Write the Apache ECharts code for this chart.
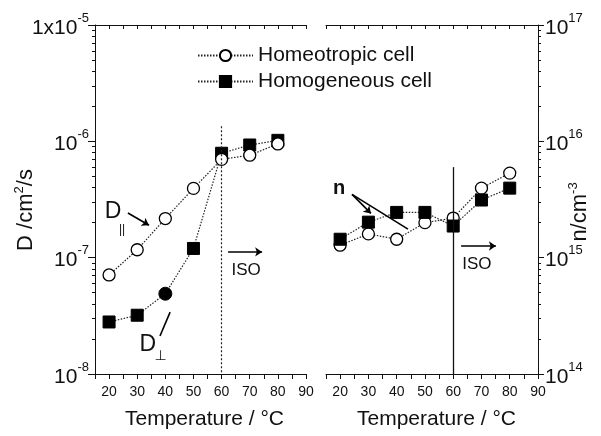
<!DOCTYPE html>
<html>
<head>
<meta charset="utf-8">
<script src="https://cdn.jsdelivr.net/npm/echarts@6/dist/echarts.min.js"></script>
<style>html,body{margin:0;padding:0;background:#fff}#c{width:601px;height:436px}</style>
</head>
<body>
<div id="c"></div>
<script>
// ---- data ----
const temps = [20, 30, 40, 50, 60, 70, 80];
const D_homeotropic = [7.1e-8, 1.17e-7, 2.17e-7, 3.94e-7, 7.0e-7, 7.6e-7, 9.5e-7];
const D_homogeneous = [2.8e-8, 3.2e-8, 4.9e-8, 1.2e-7, 7.9e-7, 9.3e-7, 1.02e-6];
const n_homeotropic = [1.28e15, 1.6e15, 1.44e15, 2.0e15, 2.19e15, 3.96e15, 5.33e15];
const n_homogeneous = [1.44e15, 2.02e15, 2.45e15, 2.45e15, 1.87e15, 3.13e15, 3.96e15];
const xTickLabels = [20, 30, 40, 50, 60, 70, 80, 90];
const seriesNames = ['Homeotropic cell', 'Homogeneous cell'];
const isoTemp = 60;

const FONT = 'Liberation Sans, Arial, sans-serif';
const BLACK = '#111';

function supLabel(v, side) {
  const e = Math.round(Math.log10(v));
  if (side === 'left' && e === -5) return '{b|1x10}{s|' + e + '}';
  return '{b|10}{s|' + e + '}';
}
const rich = {
  b: { fontSize: 21, fontFamily: FONT, color: BLACK, padding: [6, 0, 0, 0] },
  s: { fontSize: 13, fontFamily: FONT, color: BLACK, padding: [0, 0, 14, 0] }
};

function xAxes(grid) {
  return [
    { type: 'value', gridIndex: grid, position: 'bottom', min: 15, max: 90, interval: 5,
      axisLine: { lineStyle: { color: BLACK, width: 1 } },
      axisTick: { length: 5, lineStyle: { color: BLACK } },
      splitLine: { show: false },
      axisLabel: { margin: 11, fontSize: 14, fontFamily: FONT, color: BLACK,
        formatter: v => (xTickLabels.indexOf(v) >= 0 ? String(v) : '') } },
    { type: 'value', gridIndex: grid, position: 'top', min: 15, max: 90, interval: 5,
      axisLine: { lineStyle: { color: BLACK, width: 1 } },
      axisTick: { inside: true, length: 4, lineStyle: { color: BLACK } },
      splitLine: { show: false }, axisLabel: { show: false } }
  ];
}

const lineStyle = { type: [1.5, 1.5], width: 1.2, color: '#222' };
const circleStyle = { color: '#fff', borderColor: '#000', borderWidth: 1.3 };
const squareStyle = { color: '#000', borderColor: '#000', borderWidth: 1 };

const pairs = (xs, ys) => xs.map((x, i) => [x, ys[i]]);

const chart = echarts.init(document.getElementById('c'), null, { renderer: 'canvas' });
chart.setOption({
  animation: false,
  backgroundColor: '#fff',
  textStyle: { fontFamily: FONT },
  grid: [
    { left: 95, right: 295, top: 25, bottom: 62 },
    { left: 326, right: 63, top: 25, bottom: 62 }
  ],
  xAxis: xAxes(0).concat(xAxes(1)),
  yAxis: [
    { type: 'log', logBase: 10, gridIndex: 0, position: 'left', min: 1e-8, max: 1e-5,
      axisLine: { show: true, lineStyle: { color: BLACK } },
      axisTick: { show: true, length: 7, lineStyle: { color: BLACK } },
      minorTick: { show: true, splitNumber: 9, length: 3, lineStyle: { color: BLACK } },
      splitLine: { show: false },
      axisLabel: { margin: 6, formatter: v => supLabel(v, 'left'), rich: rich } },
    { type: 'log', logBase: 10, gridIndex: 1, position: 'right', min: 1e14, max: 1e17,
      axisLine: { show: true, lineStyle: { color: BLACK } },
      axisTick: { show: true, length: 6, lineStyle: { color: BLACK } },
      minorTick: { show: true, splitNumber: 9, length: 3, lineStyle: { color: BLACK } },
      splitLine: { show: false },
      axisLabel: { margin: 7, formatter: v => supLabel(v, 'right'), rich: rich } }
  ],
  legend: {
    data: seriesNames, orient: 'vertical', left: 192, top: 40, itemGap: 5,
    itemWidth: 55, itemHeight: 14,
    textStyle: { fontSize: 21, fontFamily: FONT, color: BLACK }
  },
  series: [
    { name: seriesNames[1], type: 'line', xAxisIndex: 0, yAxisIndex: 0, z: 2,
      data: pairs(temps, D_homogeneous).map((p, i) => i === 2 ? { value: p, symbol: 'circle', symbolSize: 13 } : p),
      symbol: 'rect', symbolSize: 12, lineStyle: lineStyle, itemStyle: squareStyle,
      markLine: { silent: true, symbol: 'none', label: { show: false },
        lineStyle: { type: [2, 2], width: 1.2, color: '#222' },
        data: [[{ coord: [isoTemp, 1.35e-6] }, { coord: [isoTemp, 1e-8] }]] } },
    { name: seriesNames[0], type: 'line', xAxisIndex: 0, yAxisIndex: 0, z: 3,
      data: pairs(temps, D_homeotropic),
      symbol: 'circle', symbolSize: 12, lineStyle: lineStyle, itemStyle: circleStyle },
    { name: seriesNames[0], type: 'line', xAxisIndex: 2, yAxisIndex: 1, z: 2,
      data: pairs(temps, n_homeotropic),
      symbol: 'circle', symbolSize: 12, lineStyle: lineStyle, itemStyle: circleStyle,
      markLine: { silent: true, symbol: 'none', label: { show: false },
        lineStyle: { type: 'solid', width: 1.3, color: '#111' },
        data: [[{ coord: [isoTemp, 6e15] }, { coord: [isoTemp, 1e14] }]] } },
    { name: seriesNames[1], type: 'line', xAxisIndex: 2, yAxisIndex: 1, z: 3,
      data: pairs(temps, n_homogeneous),
      symbol: 'rect', symbolSize: 12, lineStyle: lineStyle, itemStyle: squareStyle },
    // annotations, left panel
    { type: 'line', xAxisIndex: 0, yAxisIndex: 0, data: [], silent: true,
      markLine: { silent: true, symbol: 'none', symbolSize: 7, label: { show: false },
        lineStyle: { type: 'solid', width: 1.6, color: '#000' },
        data: [
          [{ coord: [26.7, 2.42e-7] }, { coord: [34.2, 1.9e-7], symbol: 'arrow' }],
          [{ coord: [38.1, 2.12e-8] }, { coord: [41.7, 3.4e-8] }],
          [{ coord: [62.3, 1.12e-7] }, { coord: [74.4, 1.12e-7], symbol: 'arrow' }]
        ] },
      markPoint: { silent: true, symbol: 'circle', symbolSize: 0,
        label: { show: true, position: 'inside', color: BLACK, fontFamily: FONT },
        data: [
          { coord: [21.4, 2.47e-7], label: { formatter: 'D', fontSize: 23 } },
          { coord: [24.6, 1.75e-7], label: { formatter: '||', fontSize: 12 } },
          { coord: [33.8, 1.78e-8], label: { formatter: 'D', fontSize: 23 } },
          { coord: [38.3, 1.42e-8], label: { formatter: '⊥', fontSize: 14, fontFamily: 'DejaVu Sans' } },
          { coord: [68.7, 7.8e-8], label: { formatter: 'ISO', fontSize: 17 } }
        ] } },
    // annotations, right panel
    { type: 'line', xAxisIndex: 2, yAxisIndex: 1, data: [], silent: true,
      markLine: { silent: true, symbol: 'none', symbolSize: 7, label: { show: false },
        lineStyle: { type: 'solid', width: 1.6, color: '#000' },
        data: [
          [{ coord: [24.2, 3.5e15] }, { coord: [30.9, 2.4e15], symbol: 'arrow' }],
          [{ coord: [24.2, 3.5e15] }, { coord: [44.0, 1.76e15] }],
          [{ coord: [62.8, 1.26e15] }, { coord: [75.1, 1.26e15], symbol: 'arrow' }]
        ] },
      markPoint: { silent: true, symbol: 'circle', symbolSize: 0,
        label: { show: true, position: 'inside', color: BLACK, fontFamily: FONT },
        data: [
          { coord: [19.6, 3.9e15], label: { formatter: 'n', fontSize: 20, fontWeight: 'bold' } },
          { coord: [68.4, 8.8e14], label: { formatter: 'ISO', fontSize: 17 } }
        ] } }
  ],
  graphic: [
    { type: 'text', left: 125, top: 409,
      style: { text: 'Temperature / °C', fontSize: 21, fontFamily: FONT, fill: BLACK } },
    { type: 'text', left: 357, top: 409,
      style: { text: 'Temperature / °C', fontSize: 21, fontFamily: FONT, fill: BLACK } },
    { type: 'text', x: 26, y: 210, rotation: Math.PI / 2,
      style: { text: '{b|D /cm}{s|2}{b|/s}', align: 'center', verticalAlign: 'middle',
        rich: { b: { fontSize: 22, fontFamily: FONT, fill: BLACK, color: BLACK },
                s: { fontSize: 13, fontFamily: FONT, fill: BLACK, color: BLACK, padding: [0, 0, 14, 0] } } } },
    { type: 'text', x: 580, y: 212, rotation: Math.PI / 2,
      style: { text: '{b|n/cm}{s|-3}', align: 'center', verticalAlign: 'middle',
        rich: { b: { fontSize: 22, fontFamily: FONT, fill: BLACK, color: BLACK },
                s: { fontSize: 13, fontFamily: FONT, fill: BLACK, color: BLACK, padding: [0, 0, 14, 0] } } } }
  ]
});
</script>
</body>
</html>
